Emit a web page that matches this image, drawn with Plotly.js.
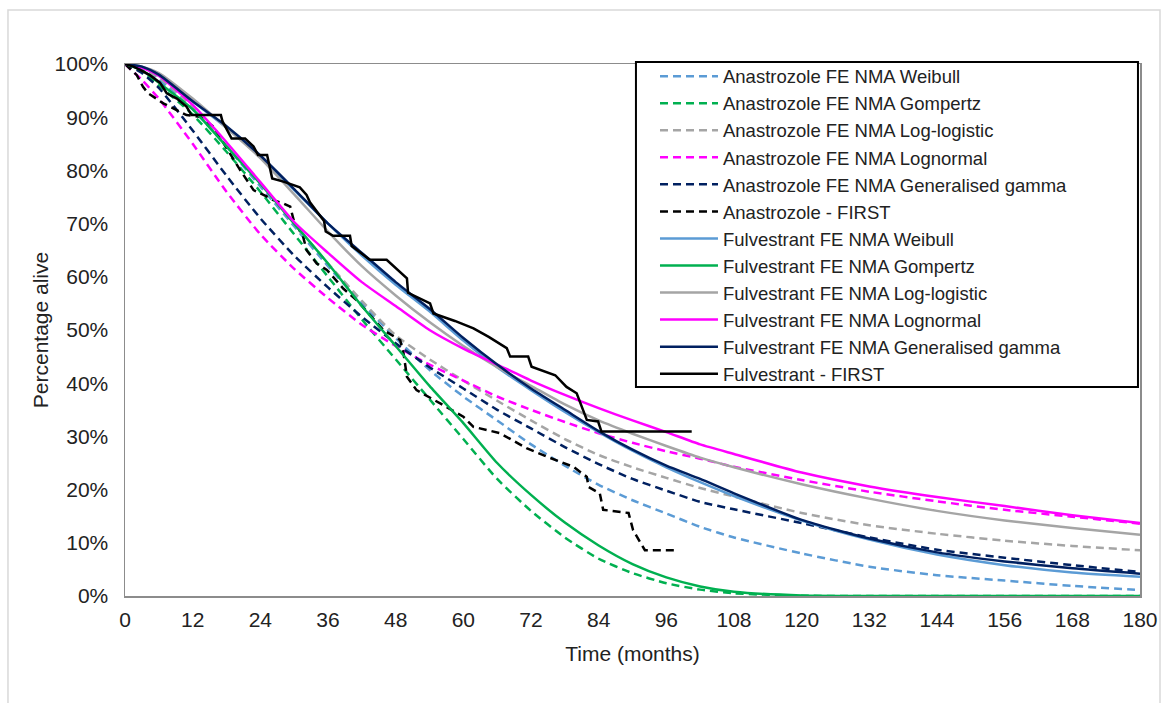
<!DOCTYPE html>
<html>
<head>
<meta charset="utf-8">
<script src="https://cdn.plot.ly/plotly-3.0.1.min.js"></script>
<style>
html,body{margin:0;padding:0;background:#fff;}
#chart{width:1169px;height:703px;}
</style>
</head>
<body>
<div id="chart"></div>
<script>
// Months grid for the fitted (parametric) curves
var months = [0,3,6,12,18,24,30,36,42,48,54,60,66,72,78,84,90,96,102,108,120,132,144,156,168,180];

// Anastrozole FE NMA fits (% alive)
var anaWeibull   = [100,99.3,97,91.5,84.5,77,69.5,62,55,48.5,42.5,37.5,33,28.5,24.5,20.9,18,15.5,13,11,8,5.5,3.9,2.9,1.9,1.1];
var anaGompertz  = [100,98.5,96,90.5,83.5,76,68,60,52,44.5,37,29.5,22,16,11,7,4.3,2.4,1.2,0.5,0.05,0,0,0,0,0];
var anaLogLog    = [100,99,97.5,92,85,77.5,70,62.5,55.5,49,44.5,40.5,36.7,33,29.5,26.5,24.2,22.2,20.3,18.7,15.6,13.3,11.7,10.4,9.4,8.6];
var anaLognormal = [100,97,93.5,85,76,68,61.5,56,51,47,43.5,40.5,37.5,35,32.7,30.6,28.8,27.2,25.8,24.3,21.8,19.6,17.8,16.2,14.9,13.6];
var anaGenGamma  = [100,98.3,95.5,87.5,79,71,64,58,52.5,47.5,43,39,35,31.5,28,24.8,22,19.8,17.7,16.3,13.7,11,8.7,7.2,5.8,4.5];

// Fulvestrant FE NMA fits (% alive)
var fulWeibull   = [100,99.4,97.8,93,88,82.5,76.3,70,64,58.5,53.5,48,43,38.7,34.6,30.8,27.3,24.2,21.4,18.8,14.2,10.6,7.8,5.8,4.4,3.6];
var fulGompertz  = [100,98.8,96.5,91.5,84.5,77.5,70,62.5,54.5,47,39.5,32.5,25,19,13.8,9.5,6,3.5,1.8,0.8,0.1,0,0,0,0,0];
var fulLogLog    = [100,99.5,98.3,93.5,88,82.3,75.5,68.5,62,56.5,51.5,47,43,39.5,36,33,30.5,28.2,26,24.2,21,18.3,16,14.2,12.8,11.5];
var fulLognormal = [100,99.3,97.8,92.3,85.3,77.8,70.3,64.5,59,54.5,50,46.5,43.5,40.5,37.8,35.3,33,30.8,28.5,26.7,23.2,20.6,18.6,16.9,15.2,13.7];
var fulGenGamma  = [100,99.5,98,93,88.3,82.8,76.5,70,64.5,59,54,48.5,43.5,39,35,31,27.5,24.5,22,19.3,14.3,10.8,8.2,6.5,5.2,4.2];

var anaFirstT = [0,2.1,3.2,4.1,6.8,10.9,13.3,15.7,20.4,22.8,25.1,26.3,28.1,29.3,29.9,31.6,32.2,34,35.8,38.7,41.1,45.8,48.8,49.4,50,51.7,55.9,60,61.8,66.5,71.2,74.8,79.5,81.9,82.2,84.2,84.8,89.3,90.1,92.2,97.8];
var anaFirstS = [100,97.9,95.7,94.5,92.6,90.4,90.1,88.2,80.1,76.3,75.1,74.4,73.8,73.2,70.7,67.5,65,62.5,61.3,57.8,55.6,50,48.1,45.6,41.2,38.7,36.2,33.7,31.8,30.6,27.8,26.2,24.3,22.4,20.5,19.3,16.2,15.6,12.4,8.6,8.6];
var fulFirstT = [0,1.5,2.7,3.8,4.4,6.2,7.4,9.2,10.9,11.8,17.0,17.3,18.9,21.3,22.8,23.6,25.2,26.1,28.1,31.0,32.2,32.8,35.3,35.6,36.9,39.9,40.2,43.4,46.4,50.0,50.2,54.1,54.7,58.5,61.8,64.5,67.7,68.3,71.5,72.1,76.3,78.3,80.1,81.9,83.9,84.5,100.5];
var fulFirstS = [100,99.5,98.9,98.2,97.9,96.5,94.5,93.5,92,90.4,90.4,89.2,86,86,84.5,82.9,82.9,78.5,77.9,76.8,75.4,74,70.5,68.5,67.7,67.7,65.8,63.2,63.2,59.7,57,55,53.1,51.7,50.3,48.7,46.6,45,45,43.1,41.5,39.3,38.1,33.1,32.8,30.9,30.9];

var names = [
  'Anastrozole FE NMA Weibull','Anastrozole FE NMA Gompertz','Anastrozole FE NMA Log-logistic',
  'Anastrozole FE NMA Lognormal','Anastrozole FE NMA Generalised gamma','Anastrozole - FIRST',
  'Fulvestrant FE NMA Weibull','Fulvestrant FE NMA Gompertz','Fulvestrant FE NMA Log-logistic',
  'Fulvestrant FE NMA Lognormal','Fulvestrant FE NMA Generalised gamma','Fulvestrant - FIRST'
];

var cBlue='#5B9BD5', cGreen='#00B050', cGray='#A5A5A5', cMag='#FF00FF', cNavy='#002060', cBlack='#000000';
var DASH='8px,5px';

function fit(name, y, color, dash){
  return {x: months, y: y, name: name, type:'scatter', mode:'lines',
    line:{color:color, width:2.5, dash:dash, shape:'spline', smoothing:0.6}, cliponaxis:false, hoverinfo:'skip'};
}
function km(name, x, y, dash){
  return {x: x, y: y, name: name, type:'scatter', mode:'lines',
    line:{color:cBlack, width:2.5, dash:dash, shape:'linear'}, cliponaxis:false, hoverinfo:'skip'};
}

var data = [
  fit(names[0], anaWeibull, cBlue, DASH),
  fit(names[1], anaGompertz, cGreen, DASH),
  fit(names[2], anaLogLog, cGray, DASH),
  fit(names[3], anaLognormal, cMag, DASH),
  fit(names[4], anaGenGamma, cNavy, DASH),
  km(names[5], anaFirstT, anaFirstS, DASH),
  fit(names[6], fulWeibull, cBlue, 'solid'),
  fit(names[7], fulGompertz, cGreen, 'solid'),
  fit(names[8], fulLogLog, cGray, 'solid'),
  fit(names[9], fulLognormal, cMag, 'solid'),
  fit(names[10], fulGenGamma, cNavy, 'solid'),
  km(names[11], fulFirstT, fulFirstS, 'solid')
];

var FONT = 'Liberation Sans, Arial, sans-serif';
var layout = {
  width:1169, height:703,
  margin:{l:125, r:29, t:64, b:107},
  paper_bgcolor:'#fff', plot_bgcolor:'#fff',
  font:{family:FONT, size:21, color:'#222'},
  showlegend:true,
  legend:{x:0.5054, y:1.012, xanchor:'left', yanchor:'top',
    bgcolor:'rgba(0,0,0,0)', borderwidth:0,
    font:{family:FONT, size:18.5, color:'#222'}, itemwidth:58, indentation:17, tracegroupgap:0},
  xaxis:{range:[0,180], tickmode:'linear', tick0:0, dtick:12, showgrid:false, zeroline:false,
    showline:true, mirror:true, linecolor:'#8c8c8c', linewidth:1.5, ticks:'',
    ticklabelstandoff:4,
    title:{text:'Time (months)', font:{family:FONT, size:21, color:'#222'}, standoff:16}},
  yaxis:{range:[0,100], tickmode:'linear', tick0:0, dtick:10, ticksuffix:'%', showgrid:false, zeroline:false,
    showline:true, mirror:true, linecolor:'#8c8c8c', linewidth:1.5, ticks:'',
    ticklabelstandoff:11,
    title:{text:'Percentage alive', font:{family:FONT, size:21, color:'#222'}, standoff:0}},
  shapes:[
    {type:'rect', xref:'paper', yref:'paper', x0:-0.1153, x1:1.0197, y0:-0.25, y1:1.1015,
     line:{color:'#d9d9d9', width:1.5}, fillcolor:'rgba(0,0,0,0)', layer:'below'},
    {type:'rect', xref:'paper', yref:'paper', x0:0.5034, x1:0.998, y0:0.393, y1:1.0038,
     line:{color:'#000', width:2}, fillcolor:'#fff', layer:'above'}
  ]
};

Plotly.newPlot('chart', data, layout, {displayModeBar:false, staticPlot:true});
</script>
</body>
</html>
